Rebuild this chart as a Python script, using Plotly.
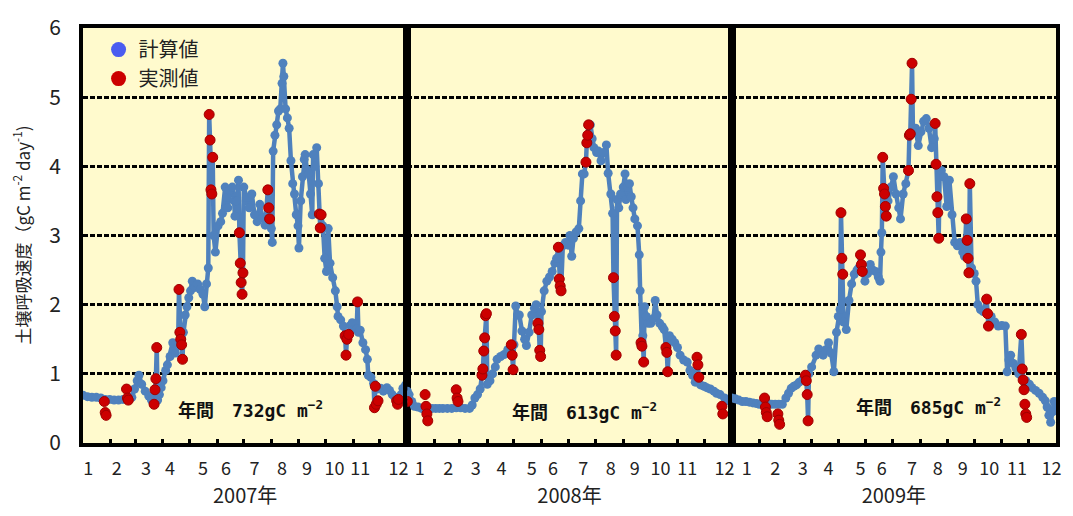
import plotly.graph_objects as go
from plotly.subplots import make_subplots

# ---------------- data ----------------
years = ["2007年", "2008年", "2009年"]
annual_totals = ["732", "613", "685"]
month_labels = [str(m) for m in range(1, 13)]
month_label_pos_2007 = [6, 38, 71, 98, 135, 161, 193, 224, 252, 283, 312, 355]
month_label_pos_2008 = [14, 46, 77, 106, 140, 164, 198, 229, 256, 285, 315, 357]
month_label_pos_2009 = [17, 49, 80, 109, 145, 169, 203, 232, 260, 290, 321, 360]
month_bounds = [31, 59, 90, 120, 151, 181, 212, 243, 273, 304, 334]

# computed (計算値) 2007
calc_day_2007 = [0, 5, 10, 15, 20, 25, 30, 35, 40, 45, 50, 55, 58, 61, 63, 66, 70, 74, 77, 80,
                 81, 82, 83, 84, 86, 88, 90, 93, 95, 98, 101, 104, 107, 108, 109, 110, 111, 112, 113, 115,
                 117, 119, 121, 123, 126, 129, 132, 135, 137, 139, 141, 142, 143, 144, 145, 146, 147, 149, 152, 155,
                 157, 160, 162, 163, 165, 168, 170, 171, 173, 175, 176, 177, 178, 179, 180, 181, 184, 187, 190, 193,
                 196, 199, 202, 205, 208, 209, 210, 212, 213, 214, 216, 218, 220, 222, 224, 225, 226, 228, 230, 232,
                 234, 236, 238, 240, 242, 243, 245, 247, 249, 250, 252, 254, 256, 258, 259, 261, 263, 265, 266, 267,
                 268, 270, 272, 274, 276, 278, 281, 284, 286, 287, 290, 293, 295, 296, 297, 299, 301, 303, 306, 308,
                 309, 310, 312, 315, 318, 320, 321, 324, 327, 328, 329, 331, 335, 338, 342, 345, 348, 351, 354, 356,
                 358, 360, 363, 365]
calc_val_2007 = [0.69, 0.67, 0.66, 0.66, 0.65, 0.63, 0.63, 0.62, 0.62, 0.63, 0.65, 0.66, 0.78, 0.90, 0.98, 0.85, 0.75, 0.68, 0.62, 0.56,
                 0.77, 0.93, 1.38, 0.62, 0.70, 0.80, 0.90, 1.05, 1.13, 1.25, 1.45, 1.30, 1.40, 2.22, 1.60, 1.50, 1.42, 1.21, 1.60, 1.85,
                 1.97, 2.10, 2.20, 2.34, 2.25, 2.30, 2.22, 2.15, 1.97, 2.30, 2.53, 4.75, 4.38, 3.66, 3.60, 4.13, 3.00, 2.76, 3.14, 3.20,
                 3.32, 3.70, 3.55, 3.40, 3.65, 3.70, 3.50, 3.28, 3.50, 3.80, 3.04, 2.60, 2.32, 2.15, 2.46, 3.70, 3.55, 3.40, 3.60, 3.30,
                 3.20, 3.45, 3.25, 3.15, 3.66, 3.40, 3.24, 3.10, 2.90, 4.22, 4.45, 4.60, 4.80, 4.83, 5.20, 5.49, 5.30, 4.83, 4.70, 4.55,
                 4.08, 3.75, 3.60, 3.30, 3.14, 2.82, 3.50, 3.85, 4.10, 4.17, 3.95, 3.89, 3.60, 3.30, 4.17, 4.00, 4.27, 3.75, 3.31, 3.11,
                 3.30, 3.14, 2.67, 2.48, 3.10, 2.60, 2.39, 2.20, 1.97, 1.83, 1.78, 1.69, 1.55, 1.27, 1.50, 1.57, 1.70, 1.74, 1.65, 1.65,
                 2.04, 1.60, 1.63, 1.45, 1.35, 1.21, 0.98, 0.95, 0.86, 0.51, 0.82, 0.78, 0.79, 0.75, 0.80, 0.76, 0.70, 0.66, 0.60, 0.62,
                 0.70, 0.79, 0.84, 0.75]

# measured (実測値) 2007
obs_day_2007 = [24, 25, 26, 49, 50, 51, 80, 81, 82, 83, 108, 109, 110, 111, 112, 142, 143, 144, 145, 146,
                176, 177, 178, 179, 180, 208, 209, 210, 266, 267, 268, 295, 296, 297, 299, 309, 328, 329, 330, 332,
                353, 354, 355]
obs_val_2007 = [0.60, 0.44, 0.40, 0.78, 0.65, 0.62, 0.56, 0.77, 0.93, 1.38, 2.22, 1.60, 1.50, 1.42, 1.21, 4.75, 4.38, 3.66, 3.60, 4.13,
                3.04, 2.60, 2.32, 2.15, 2.46, 3.66, 3.40, 3.24, 3.31, 3.11, 3.30, 1.55, 1.27, 1.50, 1.57, 2.04, 0.51, 0.82, 0.56, 0.61,
                0.61, 0.56, 0.63]

# computed 2008
calc_day_2008 = [0, 2, 5, 8, 12, 16, 20, 24, 28, 32, 36, 40, 45, 50, 55, 60, 65, 70, 73, 76,
                 79, 82, 84, 85, 86, 87, 88, 89, 90, 93, 96, 99, 101, 105, 109, 113, 117, 118, 119, 120,
                 122, 124, 126, 129, 132, 134, 137, 140, 143, 145, 147, 148, 149, 150, 151, 154, 157, 160, 163, 166,
                 168, 170, 171, 172, 173, 175, 178, 181, 183, 185, 187, 190, 193, 195, 197, 199, 201, 202, 203, 204,
                 206, 208, 210, 213, 215, 218, 221, 224, 226, 229, 231, 232, 233, 234, 235, 236, 238, 240, 243, 245,
                 246, 248, 250, 252, 254, 256, 259, 261, 262, 263, 264, 265, 266, 267, 269, 271, 274, 277, 279, 281,
                 284, 287, 289, 291, 292, 293, 295, 298, 301, 304, 307, 311, 315, 318, 321, 324, 326, 327, 328, 330,
                 334, 337, 341, 345, 348, 352, 357, 361, 365]
calc_val_2008 = [0.75, 0.70, 0.60, 0.53, 0.52, 0.50, 0.50, 0.50, 0.50, 0.50, 0.50, 0.50, 0.50, 0.50, 0.51, 0.51, 0.50, 0.50, 0.55, 0.65,
                 0.70, 0.78, 0.98, 1.07, 1.33, 1.52, 1.84, 1.87, 0.85, 0.90, 1.00, 1.10, 1.21, 1.25, 1.28, 1.35, 1.42, 1.27, 1.06, 1.42,
                 1.98, 1.85, 1.85, 1.62, 1.50, 1.41, 1.60, 1.85, 1.95, 2.00, 1.73, 1.64, 1.34, 1.25, 1.90, 2.20, 2.34, 2.40, 2.48, 2.60,
                 2.67, 2.83, 2.37, 2.27, 2.20, 2.85, 2.90, 2.86, 3.00, 2.70, 2.96, 3.05, 3.10, 3.50, 3.89, 3.89, 4.06, 4.34, 4.45, 4.60,
                 4.60, 4.40, 4.27, 4.20, 4.22, 4.08, 4.20, 4.31, 3.90, 3.60, 3.32, 2.39, 1.83, 1.62, 1.27, 3.52, 3.40, 3.60, 3.70, 3.89,
                 3.52, 3.70, 3.75, 3.56, 3.40, 3.24, 3.14, 2.72, 2.20, 1.45, 1.40, 1.55, 1.17, 1.97, 1.83, 1.73, 1.73, 1.80, 2.06, 1.85,
                 1.73, 1.68, 1.64, 1.38, 1.31, 1.03, 1.55, 1.50, 1.45, 1.38, 1.27, 1.20, 1.17, 1.05, 0.98, 0.88, 1.24, 1.13, 0.95, 0.84,
                 0.82, 0.80, 0.78, 0.75, 0.72, 0.70, 0.65, 0.61, 0.60]

obs_day_2008 = [0, 20, 21, 22, 23, 55, 56, 57, 84, 85, 86, 87, 88, 89, 117, 118, 119, 147, 148, 149,
                150, 170, 171, 172, 173, 201, 202, 203, 204, 232, 233, 234, 235, 263, 264, 266, 291, 292, 293, 326,
                327, 328, 354, 355]
obs_val_2008 = [0.60, 0.70, 0.53, 0.42, 0.32, 0.77, 0.65, 0.60, 0.98, 1.07, 1.33, 1.52, 1.84, 1.87, 1.42, 1.27, 1.06, 1.73, 1.64, 1.34,
                1.25, 2.83, 2.37, 2.27, 2.20, 4.06, 4.34, 4.45, 4.60, 2.39, 1.83, 1.62, 1.27, 1.45, 1.40, 1.17, 1.38, 1.31, 1.03, 1.24,
                1.13, 0.95, 0.53, 0.42]

# computed 2009
calc_day_2009 = [0, 4, 8, 12, 16, 20, 24, 28, 31, 34, 37, 41, 45, 49, 53, 57, 61, 64, 67, 70,
                 73, 76, 80, 83, 84, 85, 86, 87, 90, 95, 98, 101, 103, 106, 109, 112, 115, 118, 120, 122,
                 123, 124, 125, 126, 129, 132, 135, 138, 141, 143, 145, 146, 147, 150, 153, 156, 159, 162, 165, 167,
                 168, 169, 170, 171, 172, 173, 174, 176, 179, 182, 185, 188, 190, 193, 196, 199, 200, 201, 202, 203,
                 204, 207, 210, 213, 216, 219, 222, 225, 228, 229, 230, 231, 232, 233, 234, 236, 239, 242, 245, 248,
                 251, 254, 257, 260, 262, 264, 265, 266, 267, 268, 270, 273, 275, 277, 280, 283, 287, 288, 289, 292,
                 296, 300, 304, 308, 310, 312, 314, 317, 320, 323, 326, 327, 328, 329, 331, 335, 338, 342, 346, 350,
                 353, 355, 357, 359, 361, 363, 365]
calc_val_2009 = [0.65, 0.64, 0.62, 0.60, 0.60, 0.59, 0.58, 0.57, 0.56, 0.57, 0.62, 0.57, 0.56, 0.56, 0.56, 0.56, 0.65, 0.72, 0.79, 0.82,
                 0.84, 0.88, 0.92, 0.98, 0.90, 0.70, 0.32, 1.00, 1.10, 1.27, 1.36, 1.30, 1.27, 1.35, 1.45, 1.30, 1.03, 1.60, 1.83, 1.93,
                 3.33, 2.67, 2.44, 1.75, 1.64, 2.06, 2.30, 2.44, 2.50, 2.53, 2.72, 2.58, 2.48, 2.34, 2.45, 2.58, 2.50, 2.48, 2.40, 2.34,
                 2.76, 3.04, 4.13, 3.68, 3.60, 3.42, 3.28, 3.50, 3.70, 3.85, 3.60, 3.40, 3.24, 3.60, 3.75, 3.94, 4.45, 4.47, 4.97, 5.49,
                 4.50, 4.55, 4.30, 4.50, 4.65, 4.69, 4.55, 4.27, 4.40, 4.62, 4.03, 3.56, 3.33, 2.96, 3.85, 3.94, 3.85, 3.42, 3.80, 3.30,
                 2.90, 2.85, 2.90, 2.76, 2.70, 3.24, 2.93, 2.67, 2.46, 3.75, 2.53, 2.45, 2.34, 2.00, 1.93, 1.90, 2.08, 1.87, 1.69, 1.83,
                 1.75, 1.69, 1.70, 1.69, 1.03, 1.20, 1.27, 1.15, 1.08, 1.00, 1.57, 1.07, 0.91, 0.77, 0.90, 0.85, 0.80, 0.76, 0.72, 0.66,
                 0.61, 0.52, 0.40, 0.30, 0.45, 0.60, 0.55]

obs_day_2009 = [37, 38, 39, 40, 52, 53, 54, 83, 84, 85, 86, 123, 124, 125, 145, 146, 147, 170, 171, 172,
                173, 174, 199, 200, 201, 202, 203, 229, 230, 231, 232, 233, 264, 265, 266, 267, 268, 287, 288, 289,
                326, 327, 328, 329, 330, 331, 332]
obs_val_2009 = [0.65, 0.52, 0.44, 0.38, 0.42, 0.33, 0.27, 0.98, 0.90, 0.70, 0.32, 3.33, 2.67, 2.44, 2.72, 2.58, 2.48, 4.13, 3.68, 3.60,
                3.42, 3.28, 3.94, 4.45, 4.47, 4.97, 5.49, 4.62, 4.03, 3.56, 3.33, 2.96, 3.24, 2.93, 2.67, 2.46, 3.75, 2.08, 1.87, 1.69,
                1.57, 1.07, 0.91, 0.77, 0.56, 0.42, 0.37]

# annotation anchor points (day, value) for the annual totals
annual_label_day = [188, 199, 221]
annual_label_val = [0.49, 0.46, 0.53]

calc_days = [calc_day_2007, calc_day_2008, calc_day_2009]
calc_vals = [calc_val_2007, calc_val_2008, calc_val_2009]
obs_days = [obs_day_2007, obs_day_2008, obs_day_2009]
obs_vals = [obs_val_2007, obs_val_2008, obs_val_2009]
label_pos = [month_label_pos_2007, month_label_pos_2008, month_label_pos_2009]

# ---------------- styling ----------------
LINE_BLUE = "#4F81BD"
RED = "#CC0000"
LEGEND_BLUE = "#4A5CF0"
BG = "#FFFACD"
FONT = "Noto Sans CJK JP, Noto Sans, sans-serif"

fig = make_subplots(rows=1, cols=3, shared_yaxes=True, horizontal_spacing=0)

for i in range(3):
    col = i + 1
    fig.add_trace(go.Scatter(
        x=calc_days[i], y=calc_vals[i], mode="lines+markers",
        line=dict(color=LINE_BLUE, width=4.5),
        marker=dict(color=LINE_BLUE, size=9),
        showlegend=False, hoverinfo="skip"), row=1, col=col)
    fig.add_trace(go.Scatter(
        x=obs_days[i], y=obs_vals[i], mode="markers",
        marker=dict(color=RED, size=10, line=dict(color="#A00000", width=1)),
        name="実測値", showlegend=False, hoverinfo="skip"), row=1, col=col)

# legend-only entries
fig.add_trace(go.Scatter(x=[None], y=[None], mode="markers", name="計算値",
                         marker=dict(color=LEGEND_BLUE, size=15)), row=1, col=1)
fig.add_trace(go.Scatter(x=[None], y=[None], mode="markers", name="実測値",
                         marker=dict(color=RED, size=15)), row=1, col=1)

for i in range(3):
    col = i + 1
    fig.update_xaxes(
        range=[0, 365], tickmode="array", tickvals=label_pos[i], ticktext=month_labels,
        ticks="", showgrid=False, zeroline=False,
        showline=True, mirror=True, linewidth=4, linecolor="black",
        tickfont=dict(family=FONT, size=18, color="#222222"),
        ticklabelstandoff=6,
        minor=dict(tickmode="array", tickvals=month_bounds, ticks="inside",
                   ticklen=4, tickwidth=3, tickcolor="black", showgrid=False),
        title=dict(text=years[i], font=dict(family=FONT, size=20, color="#222222"), standoff=4),
        row=1, col=col)
    fig.update_yaxes(
        range=[0, 6], tickmode="array", tickvals=[0, 1, 2, 3, 4, 5, 6],
        showgrid=True, gridcolor="black", gridwidth=2.5, griddash="5px,2px",
        zeroline=False, showline=True, mirror=True, linewidth=4, linecolor="black",
        ticks="", showticklabels=(i == 0),
        tickfont=dict(family=FONT, size=21, color="#222222"),
        ticklabelstandoff=14,
        row=1, col=col)
    xref = "x" if i == 0 else f"x{col}"
    yref = "y" if i == 0 else f"y{col}"
    fig.add_annotation(
        x=annual_label_day[i], y=annual_label_val[i], xref=xref, yref=yref,
        text=f"年間　{annual_totals[i]}gC m<sup>−2</sup>", showarrow=False,
        font=dict(family="DejaVu Sans Mono, Noto Sans CJK JP, monospace", size=18, color="#111111", weight="bold"))

fig.add_annotation(
    x=0, y=0.5, xref="paper", yref="paper", xshift=-62, xanchor="center", yanchor="middle",
    textangle=-90, showarrow=False,
    text="土壌呼吸速度（gC m<sup>-2</sup> day<sup>-1</sup>)",
    font=dict(family=FONT, size=17, color="#222222"))

fig.update_layout(
    width=1073, height=516,
    margin=dict(l=83, r=11, t=17, b=73),
    paper_bgcolor="white", plot_bgcolor=BG,
    legend=dict(x=0.016, y=0.995, xanchor="left", yanchor="top",
                bgcolor="rgba(0,0,0,0)", font=dict(family=FONT, size=20, color="#222222"),
                itemwidth=30, tracegroupgap=0),
    showlegend=True,
)

fig.write_html("out.html")
